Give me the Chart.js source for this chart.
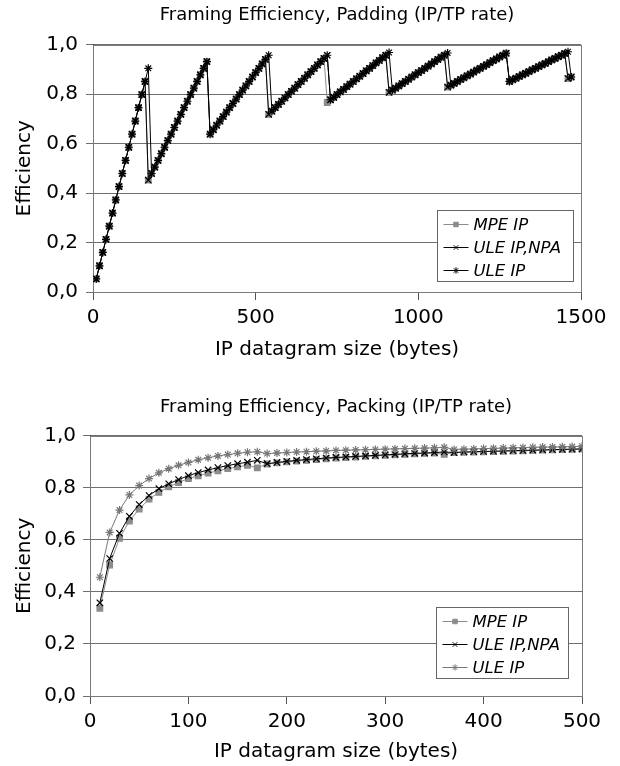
<!DOCTYPE html>
<html>
<head>
<meta charset="utf-8">
<title>Framing Efficiency</title>
<script src="https://cdn.jsdelivr.net/npm/chart.js"></script>
<style>
  html, body { margin: 0; padding: 0; background: #fff; }
  canvas { position: absolute; left: 0; }
  #paddingChart { top: 0; }
  #packingChart { top: 383px; }
</style>
</head>
<body>
<canvas id="paddingChart" width="620" height="383"></canvas>
<canvas id="packingChart" width="620" height="383"></canvas>
<script>
const seriesNames = ['MPE IP', 'ULE IP,NPA', 'ULE IP'];
const yTickLabels = ['0,0', '0,2', '0,4', '0,6', '0,8', '1,0'];

// --- Padding chart: IP datagram size (bytes) ---
const paddingSizes = [
  10, 20, 30, 40, 50, 60, 70, 80, 90, 100, 110, 120, 130, 140, 150, 160, 170, 180, 190, 200,
  210, 220, 230, 240, 250, 260, 270, 280, 290, 300, 310, 320, 330, 340, 350, 360, 370, 380, 390, 400,
  410, 420, 430, 440, 450, 460, 470, 480, 490, 500, 510, 520, 530, 540, 550, 560, 570, 580, 590, 600,
  610, 620, 630, 640, 650, 660, 670, 680, 690, 700, 710, 720, 730, 740, 750, 760, 770, 780, 790, 800,
  810, 820, 830, 840, 850, 860, 870, 880, 890, 900, 910, 920, 930, 940, 950, 960, 970, 980, 990, 1000,
  1010, 1020, 1030, 1040, 1050, 1060, 1070, 1080, 1090, 1100, 1110, 1120, 1130, 1140, 1150, 1160, 1170, 1180, 1190, 1200,
  1210, 1220, 1230, 1240, 1250, 1260, 1270, 1280, 1290, 1300, 1310, 1320, 1330, 1340, 1350, 1360, 1370, 1380, 1390, 1400,
  1410, 1420, 1430, 1440, 1450, 1460, 1470
];

const paddingMpe = [
  0.053, 0.106, 0.160, 0.213, 0.266, 0.319, 0.372, 0.426, 0.479, 0.532, 0.585, 0.638, 0.691, 0.745, 0.798, 0.851,
  0.452, 0.479, 0.505, 0.532, 0.559, 0.585, 0.612, 0.638, 0.665, 0.691, 0.718, 0.745, 0.771, 0.798, 0.824, 0.851, 0.878, 0.904, 0.931,
  0.638, 0.656, 0.674, 0.691, 0.709, 0.727, 0.745, 0.762, 0.780, 0.798, 0.816, 0.833, 0.851, 0.869, 0.887, 0.904, 0.922, 0.940,
  0.718, 0.731, 0.745, 0.758, 0.771, 0.785, 0.798, 0.811, 0.824, 0.838, 0.851, 0.864, 0.878, 0.891, 0.904, 0.918, 0.931, 0.944,
  0.766, 0.777, 0.787, 0.798, 0.809, 0.819, 0.830, 0.840, 0.851, 0.862, 0.872, 0.883, 0.894, 0.904, 0.915, 0.926, 0.936, 0.947, 0.957,
  0.807, 0.816, 0.824, 0.833, 0.842, 0.851, 0.860, 0.869, 0.878, 0.887, 0.895, 0.904, 0.913, 0.922, 0.931, 0.940, 0.949, 0.957,
  0.828, 0.836, 0.843, 0.851, 0.859, 0.866, 0.874, 0.881, 0.889, 0.897, 0.904, 0.912, 0.919, 0.927, 0.935, 0.942, 0.950, 0.957, 0.965,
  0.851, 0.858, 0.864, 0.871, 0.878, 0.884, 0.891, 0.898, 0.904, 0.911, 0.918, 0.924, 0.931, 0.938, 0.944, 0.951, 0.957, 0.964,
  0.863, 0.869
];

const paddingUleNpa = [
  0.053, 0.106, 0.160, 0.213, 0.266, 0.319, 0.372, 0.426, 0.479, 0.532, 0.585, 0.638, 0.691, 0.745, 0.798, 0.851,
  0.452, 0.479, 0.505, 0.532, 0.559, 0.585, 0.612, 0.638, 0.665, 0.691, 0.718, 0.745, 0.771, 0.798, 0.824, 0.851, 0.878, 0.904, 0.931,
  0.638, 0.656, 0.674, 0.691, 0.709, 0.727, 0.745, 0.762, 0.780, 0.798, 0.816, 0.833, 0.851, 0.869, 0.887, 0.904, 0.922, 0.940,
  0.718, 0.731, 0.745, 0.758, 0.771, 0.785, 0.798, 0.811, 0.824, 0.838, 0.851, 0.864, 0.878, 0.891, 0.904, 0.918, 0.931, 0.944, 0.957,
  0.777, 0.787, 0.798, 0.809, 0.819, 0.830, 0.840, 0.851, 0.862, 0.872, 0.883, 0.894, 0.904, 0.915, 0.926, 0.936, 0.947, 0.957,
  0.807, 0.816, 0.824, 0.833, 0.842, 0.851, 0.860, 0.869, 0.878, 0.887, 0.895, 0.904, 0.913, 0.922, 0.931, 0.940, 0.949, 0.957,
  0.828, 0.836, 0.843, 0.851, 0.859, 0.866, 0.874, 0.881, 0.889, 0.897, 0.904, 0.912, 0.919, 0.927, 0.935, 0.942, 0.950, 0.957, 0.965,
  0.851, 0.858, 0.864, 0.871, 0.878, 0.884, 0.891, 0.898, 0.904, 0.911, 0.918, 0.924, 0.931, 0.938, 0.944, 0.951, 0.957, 0.964,
  0.863, 0.869
];

const paddingUle = [
  0.053, 0.106, 0.160, 0.213, 0.266, 0.319, 0.372, 0.426, 0.479, 0.532, 0.585, 0.638, 0.691, 0.745, 0.798, 0.851, 0.904,
  0.479, 0.505, 0.532, 0.559, 0.585, 0.612, 0.638, 0.665, 0.691, 0.718, 0.745, 0.771, 0.798, 0.824, 0.851, 0.878, 0.904, 0.931,
  0.638, 0.656, 0.674, 0.691, 0.709, 0.727, 0.745, 0.762, 0.780, 0.798, 0.816, 0.833, 0.851, 0.869, 0.887, 0.904, 0.922, 0.940, 0.957,
  0.731, 0.745, 0.758, 0.771, 0.785, 0.798, 0.811, 0.824, 0.838, 0.851, 0.864, 0.878, 0.891, 0.904, 0.918, 0.931, 0.944, 0.957,
  0.777, 0.787, 0.798, 0.809, 0.819, 0.830, 0.840, 0.851, 0.862, 0.872, 0.883, 0.894, 0.904, 0.915, 0.926, 0.936, 0.947, 0.957, 0.968,
  0.816, 0.824, 0.833, 0.842, 0.851, 0.860, 0.869, 0.878, 0.887, 0.895, 0.904, 0.913, 0.922, 0.931, 0.940, 0.949, 0.957, 0.966,
  0.836, 0.843, 0.851, 0.859, 0.866, 0.874, 0.881, 0.889, 0.897, 0.904, 0.912, 0.919, 0.927, 0.935, 0.942, 0.950, 0.957, 0.965,
  0.851, 0.858, 0.864, 0.871, 0.878, 0.884, 0.891, 0.898, 0.904, 0.911, 0.918, 0.924, 0.931, 0.938, 0.944, 0.951, 0.957, 0.964, 0.971,
  0.869
];

// --- Packing chart ---
const packingSizes = [
  10, 20, 30, 40, 50, 60, 70, 80, 90, 100, 110, 120, 130, 140, 150, 160, 170, 180, 190, 200,
  210, 220, 230, 240, 250, 260, 270, 280, 290, 300, 310, 320, 330, 340, 350, 360, 370, 380, 390, 400,
  410, 420, 430, 440, 450, 460, 470, 480, 490, 500
];

const packingMpe = [
  0.337, 0.503, 0.606, 0.672, 0.718, 0.756, 0.782, 0.803, 0.820, 0.835, 0.846, 0.856, 0.865, 0.873, 0.880, 0.886, 0.876, 0.891, 0.895, 0.899,
  0.902, 0.905, 0.908, 0.911, 0.914, 0.916, 0.918, 0.920, 0.922, 0.924, 0.926, 0.928, 0.930, 0.932, 0.933, 0.928, 0.935, 0.936, 0.937, 0.938,
  0.939, 0.940, 0.941, 0.942, 0.943, 0.944, 0.945, 0.946, 0.947, 0.948
];

const packingUleNpa = [
  0.358, 0.528, 0.625, 0.690, 0.735, 0.770, 0.796, 0.815, 0.831, 0.846, 0.858, 0.868, 0.877, 0.885, 0.892, 0.898, 0.905, 0.892, 0.897, 0.901,
  0.905, 0.908, 0.911, 0.914, 0.916, 0.918, 0.920, 0.922, 0.924, 0.926, 0.928, 0.930, 0.932, 0.933, 0.935, 0.937, 0.935, 0.937, 0.938, 0.939,
  0.940, 0.941, 0.942, 0.943, 0.944, 0.945, 0.946, 0.947, 0.948, 0.949
];

const packingUle = [
  0.456, 0.628, 0.714, 0.772, 0.808, 0.835, 0.857, 0.873, 0.886, 0.897, 0.907, 0.915, 0.922, 0.927, 0.932, 0.936, 0.938, 0.931, 0.933, 0.935,
  0.937, 0.938, 0.940, 0.941, 0.943, 0.944, 0.945, 0.946, 0.947, 0.948, 0.949, 0.950, 0.951, 0.952, 0.953, 0.955, 0.947, 0.948, 0.949, 0.950,
  0.951, 0.952, 0.953, 0.954, 0.955, 0.956, 0.956, 0.957, 0.958, 0.959
];

Chart.defaults.font.family = '"DejaVu Sans", Verdana, sans-serif';
Chart.defaults.color = '#000';

// grey frame round the plot area (top and right sides)
const plotFrame = {
  id: 'plotFrame',
  beforeDatasetsDraw(chart) {
    const { ctx, chartArea: a } = chart;
    ctx.save();
    ctx.strokeStyle = '#7a7a7a';
    ctx.lineWidth = 1;
    ctx.strokeRect(Math.round(a.left) + 0.5, Math.round(a.top) + 0.5,
      Math.round(a.right - a.left), Math.round(a.bottom - a.top));
    ctx.restore();
  }
};

function drawMarker(ctx, style, x, y, r) {
  if (Chart.helpers && Chart.helpers.drawPoint) {
    Chart.helpers.drawPoint(ctx, { pointStyle: style, radius: r, borderWidth: 1, rotation: 0 }, x, y);
  }
}

// legend box in the lower right corner of the plot
const boxLegend = {
  id: 'boxLegend',
  afterDraw(chart, args, opts) {
    const { ctx, chartArea: a } = chart;
    const x0 = Math.round(a.right - opts.right - opts.width) + 0.5;
    const y0 = Math.round(a.bottom - opts.bottom - opts.height) + 0.5;
    ctx.save();
    ctx.fillStyle = '#fff';
    ctx.strokeStyle = '#666';
    ctx.lineWidth = 1;
    ctx.fillRect(x0, y0, opts.width, opts.height);
    ctx.strokeRect(x0, y0, opts.width, opts.height);
    ctx.font = 'italic 16.5px "DejaVu Sans"';
    ctx.textBaseline = 'middle';
    chart.data.datasets.forEach((ds, i) => {
      const y = Math.round(y0 + 13 + i * 23) + 0.5;
      ctx.strokeStyle = ds.borderColor;
      ctx.fillStyle = ds.pointBackgroundColor;
      ctx.lineWidth = 1;
      ctx.beginPath();
      ctx.moveTo(x0 + 6, y);
      ctx.lineTo(x0 + 31, y);
      ctx.stroke();
      ctx.strokeStyle = ds.pointBorderColor;
      drawMarker(ctx, ds.pointStyle, x0 + 18.5, y, 3.2);
      ctx.fillStyle = '#000';
      ctx.fillText(ds.label, x0 + 36, y + 1);
    });
    ctx.restore();
  }
};

function makeDatasets(sizes, series, uleColor) {
  const styles = [
    { color: '#8c8c8c', point: 'rect', radius: 4 },
    { color: '#000000', point: 'crossRot', radius: 4.5 },
    { color: uleColor, point: 'star', radius: 4 }
  ];
  return series.map((vals, i) => ({
    label: seriesNames[i],
    data: sizes.map((s, j) => ({ x: s, y: vals[j] })),
    order: series.length - i, // later series drawn on top
    borderColor: styles[i].color,
    backgroundColor: styles[i].color,
    pointBackgroundColor: styles[i].color,
    pointBorderColor: styles[i].color,
    pointStyle: styles[i].point,
    pointRadius: styles[i].radius,
    pointBorderWidth: 1.2,
    borderWidth: 1,
    tension: 0
  }));
}

function makeOptions(cfg) {
  return {
    responsive: false,
    animation: false,
    devicePixelRatio: 1,
    layout: { padding: { left: 0, right: cfg.padRight, top: 0, bottom: 0 } },
    plugins: {
      legend: { display: false },
      tooltip: { enabled: false },
      title: {
        display: true,
        text: cfg.title,
        fullSize: false,
        font: { size: 18, weight: 'normal' },
        color: '#000',
        padding: cfg.titlePad
      },
      boxLegend: cfg.legendBox
    },
    scales: {
      x: {
        type: 'linear',
        min: 0,
        max: cfg.xMax,
        ticks: {
          stepSize: cfg.xStep,
          font: { size: 20 },
          color: '#000',
          padding: 6,
          maxRotation: 0,
          callback: v => String(v)
        },
        grid: { drawOnChartArea: false, drawTicks: true, tickLength: 8, color: '#555' },
        border: { color: '#333', width: 1 },
        title: {
          display: true,
          text: 'IP datagram size (bytes)',
          font: { size: 20 },
          color: '#000',
          padding: { top: 0, bottom: cfg.xTitleBottom }
        },
        afterFit: s => { s.height = cfg.xHeight; }
      },
      y: {
        min: 0,
        max: 1,
        ticks: {
          stepSize: 0.2,
          font: { size: 20 },
          color: '#000',
          padding: cfg.yTickPad,
          callback: (v, i) => yTickLabels[i]
        },
        grid: { color: '#707070', tickLength: 7 },
        border: { color: '#333', width: 1 },
        title: {
          display: true,
          text: 'Efficiency',
          font: { size: 20 },
          color: '#000',
          padding: { top: 13, bottom: 0 }
        },
        afterFit: s => { s.width = cfg.yWidth; }
      }
    }
  };
}

new Chart(document.getElementById('paddingChart'), {
  type: 'line',
  data: { datasets: makeDatasets(paddingSizes, [paddingMpe, paddingUleNpa, paddingUle], '#000000') },
  options: makeOptions({
    title: 'Framing Efficiency, Padding (IP/TP rate)',
    titlePad: { top: 5, bottom: 18 },
    padRight: 39,
    xMax: 1500, xStep: 500,
    xHeight: 91, xTitleBottom: 21,
    yWidth: 93, yTickPad: 8,
    legendBox: { right: 8, bottom: 11, width: 136, height: 71 }
  }),
  plugins: [plotFrame, boxLegend]
});

new Chart(document.getElementById('packingChart'), {
  type: 'line',
  data: { datasets: makeDatasets(packingSizes, [packingMpe, packingUleNpa, packingUle], '#777777') },
  options: makeOptions({
    title: 'Framing Efficiency, Packing (IP/TP rate)',
    titlePad: { top: 14, bottom: 17 },
    padRight: 38,
    xMax: 500, xStep: 100,
    xHeight: 70, xTitleBottom: 2,
    yWidth: 90, yTickPad: 7,
    legendBox: { right: 14, bottom: 18, width: 132, height: 71 }
  }),
  plugins: [plotFrame, boxLegend]
});
</script>
</body>
</html>
